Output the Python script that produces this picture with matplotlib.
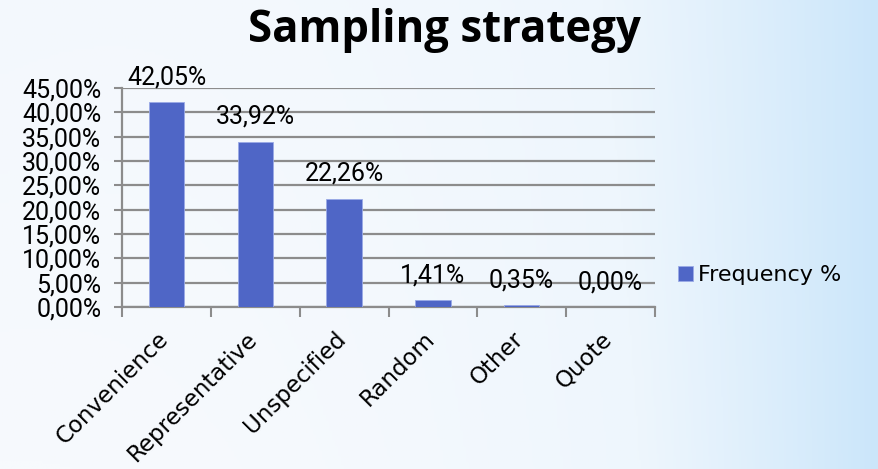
import matplotlib.pyplot as plt
import numpy as np
from matplotlib.colors import LinearSegmentedColormap
from matplotlib.transforms import ScaledTranslation

categories = ['Convenience', 'Representative', 'Unspecified', 'Random', 'Other', 'Quote']
freq = [42.05, 33.92, 22.26, 1.41, 0.35, 0.00]
yticks = [0, 5, 10, 15, 20, 25, 30, 35, 40, 45]

def pct(v):
    return ('%.2f%%' % v).replace('.', ',')

fig = plt.figure(figsize=(8.79, 4.69), dpi=100)

# background gradient
bg = fig.add_axes([0, 0, 1, 1], zorder=-10)
gx = np.linspace(0, 1, 300)
gy = np.linspace(0, 1, 150)
X, Y = np.meshgrid(gx, gy)
G = np.clip(0.75 * X ** 2.2 + 0.25 * Y * (1 - X) * 0.6, 0, 1)
cmap = LinearSegmentedColormap.from_list('bg', ['#f7fafd', '#eef6fd', '#cbe6fa'])
bg.imshow(G, cmap=cmap, aspect='auto', extent=[0, 1, 0, 1], origin='lower')
bg.axis('off')

ax = fig.add_axes([0.139, 0.3454, 0.606, 0.467])
ax.patch.set_alpha(0)
x = np.arange(len(categories))
bars = ax.bar(x, freq, width=0.4, color='#4f66c6', edgecolor='#9aaae6', linewidth=0.6,
              label='Frequency %', zorder=3)

for xi, v in zip(x, freq):
    ax.annotate(pct(v), (xi, v), xytext=(0, 18), textcoords='offset points',
                ha='center', va='center', fontsize=18, family='Roboto', zorder=4)

ax.set_xlim(-0.5, len(categories) - 0.5)
ax.set_ylim(0, 45)
ax.set_yticks(yticks)
ax.set_yticklabels([pct(v) for v in yticks], family='Roboto', fontsize=18)
ax.yaxis.grid(True, color='#8c8c8c', linewidth=1.6, zorder=0)
ax.set_axisbelow(True)

ax.set_xticks(np.arange(len(categories) + 1) - 0.5)
ax.set_xticklabels([])
# category labels, rotated, placed under each bar
shift = ScaledTranslation(-0.10, -0.205, fig.dpi_scale_trans)
for xi, cat in zip(x, categories):
    ax.text(xi, 0, cat, transform=ax.get_xaxis_transform() + shift,
            rotation=45, ha='right', va='top', rotation_mode='anchor',
            family='DejaVu Sans', fontsize=16.5)
ax.tick_params(axis='x', length=7, width=1.5, color='#8c8c8c', direction='out')
ax.tick_params(axis='y', length=6, width=1.5, color='#8c8c8c', pad=9)

for s in ['top', 'right']:
    ax.spines[s].set_visible(False)
for s in ['left', 'bottom']:
    ax.spines[s].set_color('#8c8c8c')
    ax.spines[s].set_linewidth(1.6)

fig.text(0.506, 0.936, 'Sampling strategy', ha='center', va='center', fontsize=31.5,
         fontweight='bold', family='Open Sans')

leg = ax.legend(loc='center left', bbox_to_anchor=(1.043, 0.146), frameon=False,
                borderaxespad=0, borderpad=0,
                handlelength=0.68, handleheight=0.68, handletextpad=0.23,
                prop={'family': 'DejaVu Sans', 'size': 16})

fig.savefig('out.png', dpi=100)
